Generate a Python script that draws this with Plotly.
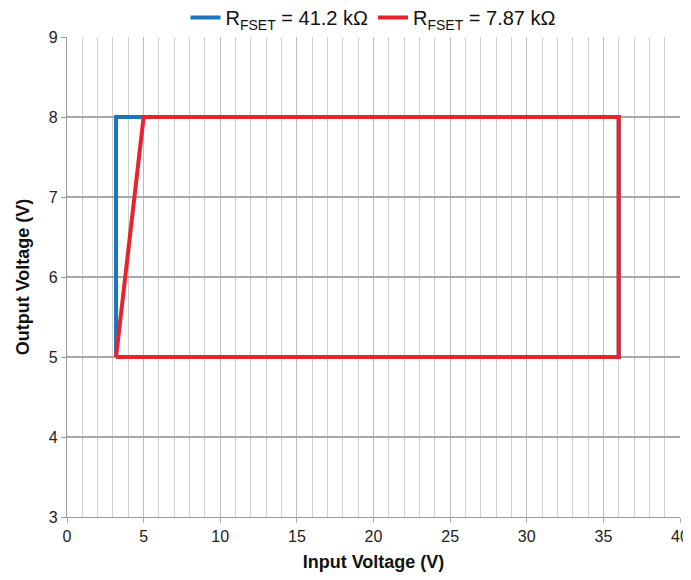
import plotly.graph_objects as go

# Datos: contorno de la región de operación
vin_41k2 = [3.2, 3.2, 5, 36, 36, 3.2]
vout_41k2 = [5, 8, 8, 8, 5, 5]
vin_7k87 = [3.2, 5, 36, 36, 3.2]
vout_7k87 = [5, 8, 8, 5, 5]

x_ticks = [0, 5, 10, 15, 20, 25, 30, 35, 40]
y_ticks = [3, 4, 5, 6, 7, 8, 9]

fig = go.Figure()
fig.add_trace(go.Scatter(
    x=vin_41k2, y=vout_41k2, mode='lines',
    name='R<sub>FSET</sub> = 41.2 kΩ',
    line=dict(color='#1a76bd', width=4)
))
fig.add_trace(go.Scatter(
    x=vin_7k87, y=vout_7k87, mode='lines',
    name='R<sub>FSET</sub> = 7.87 kΩ',
    line=dict(color='#e8232c', width=4)
))

# La página añade 8 px de margen al body: se compensa en el tamaño y márgenes
fig.update_layout(
    width=683, height=564,
    paper_bgcolor='white', plot_bgcolor='white',
    font=dict(family='Liberation Sans, Arial', size=16, color='#222'),
    margin=dict(l=59, r=11, t=29, b=55, autoexpand=False),
    showlegend=True,
    legend=dict(
        orientation='h', x=0.5, xanchor='center',
        y=1.0, yanchor='bottom',
        font=dict(size=20, color='#111'),
        bgcolor='rgba(0,0,0,0)'
    ),
    xaxis=dict(
        range=[0, 40], tickvals=x_ticks, showgrid=True,
        gridcolor='#bdbdbd', gridwidth=1.2,
        minor=dict(dtick=1, showgrid=True, gridcolor='#d0d0d0', gridwidth=1.2),
        ticks='outside', ticklen=5, tickcolor='#aaa',
        tickfont=dict(size=16), ticklabeloverflow='allow',
        showline=True, linecolor='#999', linewidth=1.2,
        zeroline=False, automargin=True,
        title=dict(text='<b>Input Voltage (V)</b>', font=dict(size=18, color='#111'), standoff=17),
    ),
    yaxis=dict(
        range=[3, 9], tickvals=y_ticks, showgrid=True,
        gridcolor='#a9a9a9', gridwidth=1.5,
        ticks='outside', ticklen=5, tickcolor='#999',
        tickfont=dict(size=16),
        showline=True, linecolor='#999', linewidth=1.2,
        zeroline=False, automargin=False,
        title=dict(text='<b>Output Voltage (V)</b>', font=dict(size=18, color='#111'), standoff=14),
    ),
)

fig.write_html("out.html")
